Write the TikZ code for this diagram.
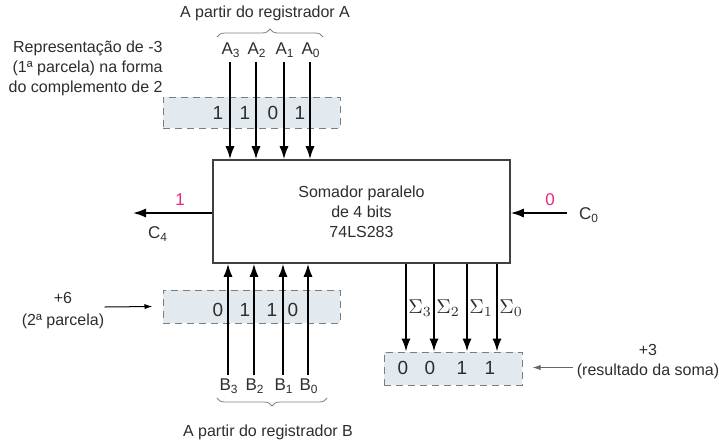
\documentclass[tikz,border=0pt]{standalone}
\usepackage{fontspec}
\setmainfont{Liberation Sans}
\usetikzlibrary{positioning,arrows.meta,decorations.pathreplacing,calc}
\definecolor{regFill}{RGB}{226,233,239}
\definecolor{regDash}{RGB}{125,125,125}
\definecolor{txtGray}{RGB}{45,45,45}
\definecolor{carryMag}{RGB}{230,40,130}

\begin{document}
\begin{tikzpicture}[x=0.5pt, y=-0.5pt,
  font=\fontsize{8}{10}\selectfont,
  every node/.style={text=txtGray},
  adderbox/.style={draw=black!75, line width=0.8pt, fill=white, minimum width=148.5pt, minimum height=51.5pt, align=center, inner sep=0pt},
  regbox/.style={draw=regDash, dashed, dash pattern=on 3.5pt off 2.5pt, line width=0.5pt, fill=regFill, inner sep=0pt},
  bitlbl/.style={font=\fontsize{9.5}{10}\selectfont, inner sep=0pt},
  pinlbl/.style={font=\fontsize{8.5}{10}\selectfont, inner sep=1.5pt},
  sumlbl/.style={font=\fontsize{10}{12}\selectfont, anchor=west, inner sep=1pt},
  carrylbl/.style={font=\fontsize{8.5}{10}\selectfont, text=carryMag, inner sep=0pt},
  notetext/.style={align=center, inner sep=0pt},
  arrowstyle/.style={-{Latex[length=6.5pt,width=4.6pt]}, line width=0.9pt},
  notearrow/.style={-{Latex[length=4pt,width=2.6pt]}, line width=0.5pt},
  bracestyle/.style={decorate, decoration={brace, amplitude=4pt}, draw=black!50, line width=0.4pt},
]
\useasboundingbox (0,0) rectangle (719,446);

% ===================================================================
% Registers (dashed) and adder block
% ===================================================================
\node[regbox, minimum width=88.5pt, minimum height=15.5pt] (regA) at (251.5,112.5) {};
\node[regbox, minimum width=88.5pt, minimum height=16.5pt] (regB) at (251.5,306.5) {};
\node[regbox, minimum width=69pt, minimum height=16.5pt] (sumreg) at (453,368.5) {};

\node[adderbox] (adder) at (361.5,211.5) {Somador paralelo\\de 4 bits\\74LS283};

% ===================================================================
% Inputs A (top)
% ===================================================================
\node (titleA) at (265,13) {A partir do registrador A};
\foreach \i/\x in {3/230,2/256,1/284,0/310} {
  \node[pinlbl] (A\i) at (\x+1,50) {A\textsubscript{\i}};
  \draw[arrowstyle] (\x,62) -- (\x,0 |- adder.north);
}
\draw[bracestyle] (217,37) -- (323,37);

\foreach \i/\b/\x in {3/1/218,2/1/245,1/0/273,0/1/300}
  \node[bitlbl] (bitA\i) at (\x,113) {\b};

\node[notetext, align=right, anchor=east] (noteA) at (163,68)
  {Representação de -3\\(1ª parcela) na forma\\do complemento de 2};

% ===================================================================
% Inputs B (bottom)
% ===================================================================
\foreach \i/\x in {3/228,2/254,1/283,0/308} {
  \node[pinlbl] (B\i) at (\x+1,386) {B\textsubscript{\i}};
  \draw[arrowstyle] (\x,0 |- B\i.north) -- (\x,0 |- adder.south);
}
\draw[bracestyle] (327,398) -- (217,398);
\node (titleB) at (268,432) {A partir do registrador B};

\foreach \i/\b/\x in {3/0/218,2/1/245,1/1/272,0/0/293}
  \node[bitlbl] (bitB\i) at (\x,310) {\b};

\node[notetext] (noteB) at (63,311) {+6\\[1pt](2ª parcela)};
\draw[notearrow] (noteB.east |- 0,307) -- ($(regB.west)+(-10,0)$);

% ===================================================================
% Carries
% ===================================================================
\coordinate (c4end) at (133,213);
\draw[arrowstyle] (adder.west |- c4end) -- (c4end);
\node[carrylbl] (carry4) at (180,200) {1};
\node[pinlbl] (C4) at (158,234) {C\textsubscript{4}};

\node[pinlbl] (C0) at (589,215) {C\textsubscript{0}};
\coordinate (c0start) at (567,213);
\draw[arrowstyle] (c0start) -- (adder.east |- c0start);
\node[carrylbl] (carry0) at (550,200) {0};

% ===================================================================
% Sum outputs
% ===================================================================
\foreach \i/\x in {3/406,2/434,1/467,0/497} {
  \draw[arrowstyle] (\x,0 |- adder.south) -- (\x,0 |- sumreg.north);
  \node[sumlbl] (S\i) at (\x,308) {$\Sigma_{\i}$};
}
\foreach \i/\b/\x in {3/0/403,2/0/430,1/1/462,0/1/490}
  \node[bitlbl] (bitS\i) at (\x,368) {\b};

\node[notetext] (noteS) at (648,362) {+3\\(resultado da soma)};
\draw[notearrow, draw=black!60] ($(sumreg.east)+(50,-1)$) -- ($(sumreg.east)+(10,-1)$);

\end{tikzpicture}
\end{document}
